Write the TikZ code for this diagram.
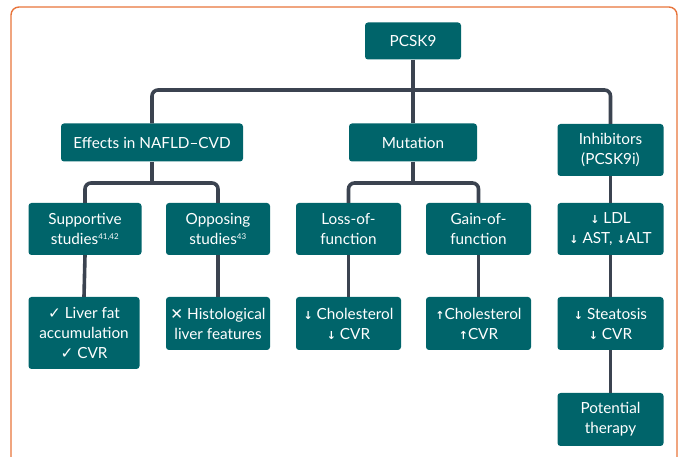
\documentclass[tikz,border=0pt]{standalone}
\usepackage{fontspec}
\setmainfont{Lato}
\newfontfamily\symfont{DejaVu Sans}
\usepackage{xcolor}
\usetikzlibrary{positioning}

\definecolor{boxteal}{HTML}{00646A}
\definecolor{linkgrey}{HTML}{3B4350}
\definecolor{frameorange}{HTML}{E8743B}

\newcommand{\dnarr}{{\symfont\bfseries\fontsize{11}{11}\selectfont ↓}}
\newcommand{\uparr}{{\symfont\bfseries\fontsize{11}{11}\selectfont ↑}}
\newcommand{\refnum}[1]{\textsuperscript{\fontsize{8}{8}\selectfont #1}}

\tikzset{
  box/.style={rectangle, rounded corners=3pt, fill=boxteal, text=white,
    align=center, inner sep=0pt, font=\fontsize{15.3}{20}\selectfont},
  link/.style={draw=linkgrey, line width=3.6pt, rounded corners=6pt}
}

\begin{document}
\begin{tikzpicture}[x=1pt, y=-1pt]
    \useasboundingbox (0,0) rectangle (681,457);
    % Rahmen
    \draw[frameorange, line width=1.4pt, rounded corners=8pt]
        (11,470) -- (11,7) -- (677,7) -- (677,470);

    % Ebene 1 und 2
    \node[box, minimum width=96pt, minimum height=37pt] (pcsk) at (413,41) {PCSK9};
    \node[box, minimum width=182pt, minimum height=38pt] (effects) at (152,142.5) {Effects in NAFLD--CVD};
    \node[box, minimum width=128pt, minimum height=38pt] (mut) at (413,142.5) {Mutation};
    \node[box, minimum width=106pt, minimum height=52pt] (inhib) at (610.5,150) {Inhibitors\\(PCSK9i)};

    % Ebene 3
    \node[box, minimum width=113pt, minimum height=52pt] (sup) at (85,229) {Supportive\\studies\refnum{41,42}};
    \node[box, minimum width=104pt, minimum height=52pt] (opp) at (218,229) {Opposing\\studies\refnum{43}};
    \node[box, minimum width=105pt, minimum height=52pt] (loss) at (348.5,229) {Loss-of-\\function};
    \node[box, minimum width=105pt, minimum height=52pt] (gain) at (478.5,229) {Gain-of-\\function};
    \node[box, minimum width=106pt, minimum height=52pt] (ldl) at (610.5,229) {\dnarr\ LDL\\\dnarr\ AST, \dnarr ALT};

    % Ebene 4
    \node[box, minimum width=111pt, minimum height=72pt] (liver) at (84,333) {{\symfont ✓}\ Liver fat\\accumulation\\{\symfont ✓}\ CVR};
    \node[box, minimum width=104pt, minimum height=53pt] (hist) at (218,323.5) {{\symfont ✕}\ Histological\\liver features};
    \node[box, minimum width=105pt, minimum height=53pt] (chdown) at (348.5,323.5) {\dnarr\ Cholesterol\\\dnarr\ CVR};
    \node[box, minimum width=105pt, minimum height=53pt] (chup) at (478.5,323.5) {\uparr Cholesterol\\\uparr CVR};
    \node[box, minimum width=106pt, minimum height=53pt] (steat) at (610.5,323.5) {\dnarr\ Steatosis\\\dnarr\ CVR};
    \node[box, minimum width=106pt, minimum height=53pt] (ther) at (610.5,419.5) {Potential\\therapy};

    % Verbindungen
    \coordinate (top) at (413,90);
    \coordinate (ebus) at (152,183);
    \coordinate (mbus) at (413,183);
    \draw[link] (pcsk.south) -- (mut.north);
    \draw[link] (effects.north) |- (top) -| (inhib.north);
    \draw[link] (effects.south) -- (ebus);
    \draw[link] (sup.north) |- (ebus) -| (opp.north);
    \draw[link] (mut.south) -- (mbus);
    \draw[link] (loss.north) |- (mbus) -| (gain.north);
    \draw[link] (inhib.south) -- (ldl.north);
    \draw[link] (sup.south) -- (liver.north);
    \draw[link] (opp.south) -- (hist.north);
    \draw[link] (loss.south) -- (chdown.north);
    \draw[link] (gain.south) -- (chup.north);
    \draw[link] (ldl.south) -- (steat.north);
    \draw[link] (steat.south) -- (ther.north);
\end{tikzpicture}
\end{document}
